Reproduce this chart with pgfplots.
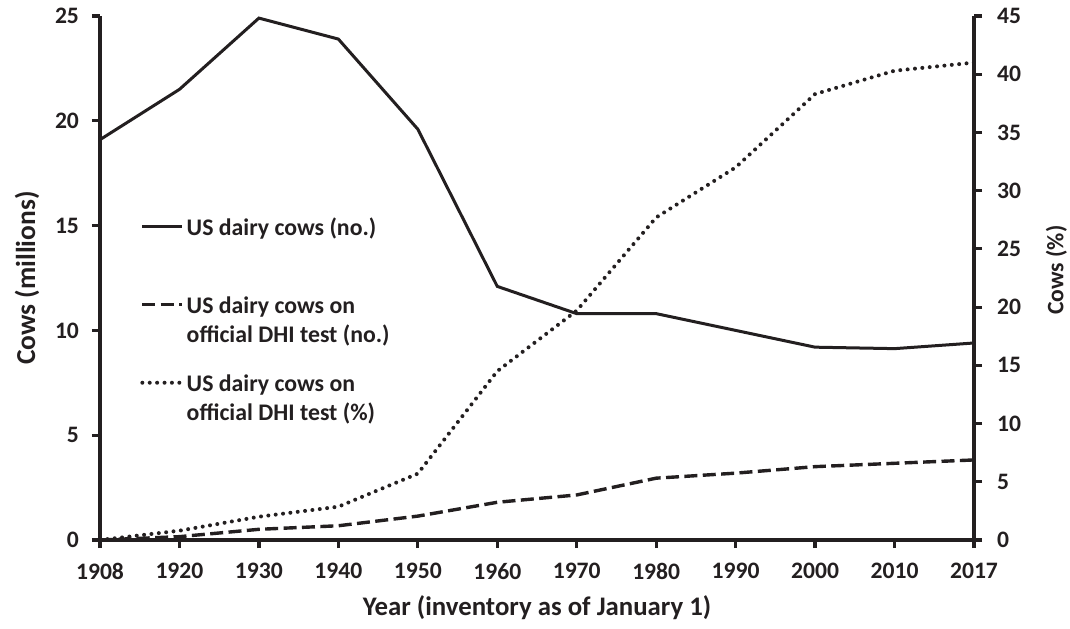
\documentclass[border=0pt]{standalone}
\usepackage{fontspec}
\setmainfont{Carlito}
\usepackage{pgfplots}
\pgfplotsset{compat=1.18}
\definecolor{ink}{RGB}{35,31,32}

\begin{document}
\begin{tikzpicture}
\pgfplotsset{
  every axis/.append style={
    scale only axis, width=437pt, height=262pt,
    xmin=0, xmax=11,
    font=\fontsize{12}{14}\selectfont\bfseries,
    tick label style={font=\fontsize{11.8}{14}\selectfont\bfseries, text=ink},
    /pgf/number format/assume math mode=true,
    axis line style={line width=1.6pt, ink},
    tick style={line width=1.6pt, ink},
    major tick length=4pt,
  },
}
\begin{axis}[
  axis x line*=bottom, axis y line*=left,
  tick align=outside,
  ymin=0, ymax=25, ytick={0,5,10,15,20,25},
  xtick={0,1,2,3,4,5,6,7,8,9,10,11},
  xticklabels={1908,1920,1930,1940,1950,1960,1970,1980,1990,2000,2010,2017},
  xticklabel style={yshift=-4pt},
  yticklabel style={xshift=-3pt},
  xlabel={Year (inventory as of January 1)},
  ylabel={Cows (millions)},
  every axis x label/.style={at={(axis description cs:0.5,-0.13)}, anchor=center,
    font=\fontsize{13.4}{16}\selectfont\bfseries, text=ink},
  every axis y label/.style={at={(axis description cs:-0.0835,0.5)}, rotate=90, anchor=center,
    font=\fontsize{13.7}{16}\selectfont\bfseries, text=ink},
  legend cell align=left,
  legend style={at={(0.0457,0.6158)}, anchor=north west, draw=none, fill=none,
    font=\fontsize{11.9}{14.7}\selectfont\bfseries, text=ink,
    row sep=29.2pt, inner xsep=0pt, inner ysep=0pt,
    nodes={inner xsep=1.2pt, inner ysep=0pt}},
  legend image code/.code={\draw[#1] (0pt,1pt) -- (20pt,1pt);},
]
\addplot[ink, line width=1.5pt] coordinates {
 (0,19.1) (1,21.5) (2,24.9) (3,23.9) (4,19.6) (5,12.1) (6,10.8) (7,10.8) (8,10.0) (9,9.2) (10,9.13) (11,9.4)};
\addlegendentry{\vtop{\hbox{US dairy cows (no.)}}}
\addplot[ink, line width=1.7pt, dash pattern=on 6.5pt off 2.7pt] coordinates {
 (0,0.0) (1,0.16) (2,0.51) (3,0.68) (4,1.14) (5,1.8) (6,2.15) (7,2.95) (8,3.19) (9,3.5) (10,3.66) (11,3.82)};
\addlegendentry{\vtop{\hbox{US dairy cows on}\hbox{official DHI test (no.)}}}
\addlegendimage{ink, line width=2pt, line cap=round, dash pattern=on 0pt off 3.7pt}
\addlegendentry{\vtop{\hbox{US dairy cows on}\hbox{official DHI test (\%)}}}
\end{axis}
\begin{axis}[
  axis y line*=right, axis x line=none,
  tick align=outside,
  ymin=0, ymax=45, ytick={0,5,10,15,20,25,30,35,40,45},
  yticklabel style={xshift=4pt},
  ylabel={Cows (\%)},
  every axis y label/.style={at={(axis description cs:1.0944,0.515)}, rotate=90, anchor=center,
    font=\fontsize{11.8}{14}\selectfont\bfseries, text=ink},
]
\addplot[ink, line width=2pt, line cap=round, dash pattern=on 0pt off 3.7pt] coordinates {
 (0,0.0) (1,0.8) (2,2.0) (3,2.86) (4,5.7) (5,14.5) (6,19.7) (7,27.7) (8,32.0) (9,38.3) (10,40.3) (11,41.0)};
\end{axis}
\pgfresetboundingbox
\path[use as bounding box] (-50pt,-44pt) rectangle (485pt,270pt);
\end{tikzpicture}
\end{document}
